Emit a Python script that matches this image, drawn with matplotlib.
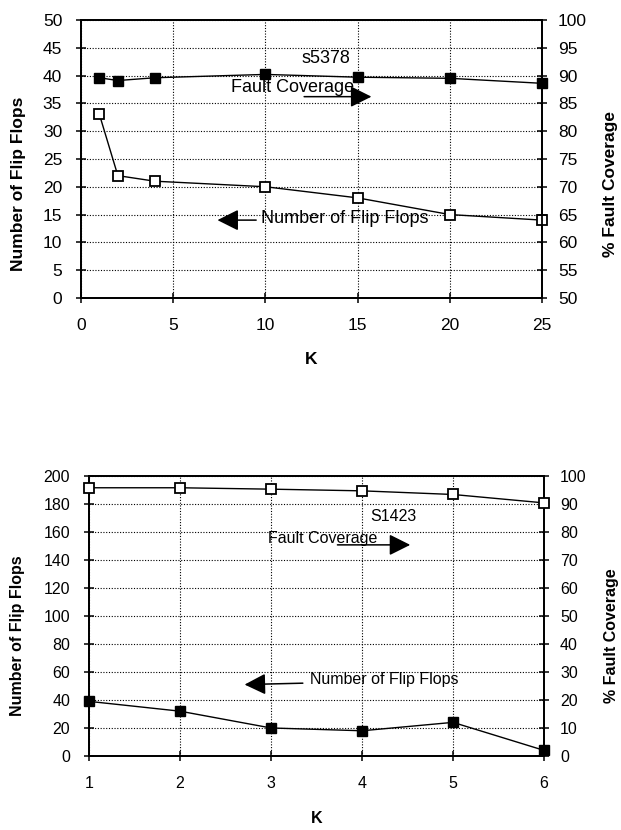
import matplotlib
matplotlib.use('Agg')
from matplotlib import pyplot as plt

plt.rcParams['font.family'] = ['Liberation Sans', 'DejaVu Sans']

# s5378 (top chart)
k_top = [1, 2, 4, 10, 15, 20, 25]
ff_top = [33, 22, 21, 20, 18, 15, 14]
fc_top = [89.6, 89.1, 89.6, 90.2, 89.7, 89.5, 88.6]

# S1423 (bottom chart)
k_bot = [1, 2, 3, 4, 5, 6]
ff_bot = [39, 32, 20, 18, 24, 4]
fc_bot = [95.8, 95.8, 95.3, 94.7, 93.4, 90.4]

fig = plt.figure(figsize=(6.21, 8.30), dpi=100)


def style_axes(ax, ax2, fs):
    for a in (ax, ax2):
        for s in a.spines.values():
            s.set_linewidth(1.3)
        a.tick_params(direction='inout', length=7, width=1.1, labelsize=fs)
    ax.tick_params(axis='x', pad=11)
    ax.tick_params(axis='y', pad=10)
    ax2.tick_params(axis='y', pad=8)
    ax.grid(True, color='black', linestyle=(0, (1, 1.5)), linewidth=0.8)
    ax.set_axisbelow(True)


def arrow(ax, tip, tail):
    ax.annotate('', xy=tip, xytext=tail,
                arrowprops=dict(arrowstyle='-|>,head_length=1.3,head_width=0.65',
                                color='black', lw=1.1, shrinkA=0, shrinkB=0,
                                mutation_scale=10))


# ---- top chart ----
ax = fig.add_axes([0.1304, 0.641, 0.7424, 0.335])
ax2 = ax.twinx()
ax.set_xlim(0, 25)
ax.set_ylim(0, 50)
ax2.set_ylim(50, 100)
ax.set_xticks(range(0, 26, 5))
ax.set_yticks(range(0, 51, 5))
ax2.set_yticks(range(50, 101, 5))
style_axes(ax, ax2, 12.5)

ax.plot(k_top, ff_top, color='black', lw=1, marker='s', ms=7.5,
        mfc='white', mec='black', mew=1.3, clip_on=False, zorder=3)
ax2.plot(k_top, fc_top, color='black', lw=1, marker='s', ms=7.5,
         mfc='black', mec='black', clip_on=False, zorder=3)

ax.set_xlabel('K', fontsize=12.5, fontweight='bold')
ax.set_ylabel('Number of Flip Flops', fontsize=12.5, fontweight='bold')
ax2.set_ylabel('% Fault Coverage', fontsize=12.5, fontweight='bold')
ax.xaxis.set_label_coords(0.5, -0.194)
ax.yaxis.set_label_coords(-0.119, 0.41)
ax2.yaxis.set_label_coords(1.132, 0.41)

ax.text(13.3, 43, 's5378', fontsize=13, ha='center', va='center')
ax.text(11.5, 37.8, 'Fault Coverage', fontsize=13, ha='center', va='center')
arrow(ax, (15.75, 36.2), (12.1, 36.2))
ax.text(14.3, 14.3, 'Number of Flip Flops', fontsize=13, ha='center', va='center')
arrow(ax, (7.4, 14.0), (9.5, 14.0))

# ---- bottom chart ----
bx = fig.add_axes([0.1433, 0.0892, 0.7327, 0.3373])
bx2 = bx.twinx()
bx.set_xlim(1, 6)
bx.set_ylim(0, 200)
bx2.set_ylim(0, 100)
bx.set_xticks(k_bot)
bx.set_yticks(range(0, 201, 20))
bx2.set_yticks(range(0, 101, 10))
style_axes(bx, bx2, 11.5)

bx.plot(k_bot, ff_bot, color='black', lw=1, marker='s', ms=7.5,
        mfc='black', mec='black', clip_on=False, zorder=3)
bx2.plot(k_bot, fc_bot, color='black', lw=1, marker='s', ms=7.5,
         mfc='white', mec='black', mew=1.3, clip_on=False, zorder=3)

bx.set_xlabel('K', fontsize=11.5, fontweight='bold')
bx.set_ylabel('Number of Flip Flops', fontsize=11.5, fontweight='bold')
bx2.set_ylabel('% Fault Coverage', fontsize=11.5, fontweight='bold')
bx.xaxis.set_label_coords(0.5, -0.196)
bx.yaxis.set_label_coords(-0.141, 0.43)
bx2.yaxis.set_label_coords(1.132, 0.43)

bx.text(4.34, 171, 'S1423', fontsize=11.5, ha='center', va='center')
bx.text(3.57, 155.6, 'Fault Coverage', fontsize=11.5, ha='center', va='center')
arrow(bx, (4.53, 150.8), (3.73, 150.8))
bx.text(4.25, 54.4, 'Number of Flip Flops', fontsize=11.5, ha='center', va='center')
arrow(bx, (2.71, 51), (3.35, 52))

fig.savefig('out.png', dpi=100)
